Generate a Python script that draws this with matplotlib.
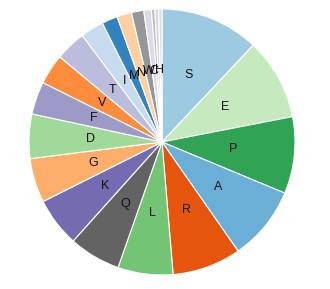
import matplotlib
matplotlib.use("Agg")
import matplotlib.pyplot as plt
import numpy as np

labels = ["S", "E", "P", "A", "R", "L", "Q", "K", "G", "D", "F", "V", "T",
          "I", "M", "N", "W", "C", "Y", "H", "X"]
values = [43.3, 35.7, 33.6, 32.5, 30.1, 24.1, 22.6, 21.5, 19.4, 19.4, 14.3,
          13.3, 13.4, 10.2, 6.9, 6.4, 5.4, 3.3, 1.5, 1.7, 1.4]
shown = ["S", "E", "P", "A", "R", "L", "Q", "K", "G", "D", "F", "V", "T",
         "I", "M", "N", "W", "C", "", "H", ""]
colors = ["#9ecae1", "#c7e9c0", "#31a354", "#6baed6", "#e6550d", "#74c476",
          "#636363", "#756bb1", "#fdae6b", "#a1d99b", "#9e9ac8", "#fd8d3c",
          "#bcbddc", "#c6dbef", "#3182bd", "#fdd0a2", "#969696", "#dadaeb",
          "#bdbdbd", "#d9d9d9", "#dadaeb"]

fig = plt.figure(figsize=(3.3, 2.89), dpi=100)
ax = fig.add_axes([29/330, 14/289, 266/330, 266/289])
wedges, _ = ax.pie(values, colors=colors, startangle=90, counterclock=False,
                   radius=1.0,
                   wedgeprops=dict(edgecolor="white", linewidth=0.8))
for w, lab in zip(wedges, shown):
    if not lab:
        continue
    ang = np.deg2rad((w.theta1 + w.theta2) / 2)
    r = 0.54
    ax.text(r*np.cos(ang), r*np.sin(ang), lab, ha="center", va="center",
            fontsize=9, family="Liberation Sans", color="#111111")
ax.set_xlim(-1, 1)
ax.set_ylim(-1, 1)
ax.set_aspect("equal")
ax.axis("off")
fig.savefig("out.png", dpi=100)
